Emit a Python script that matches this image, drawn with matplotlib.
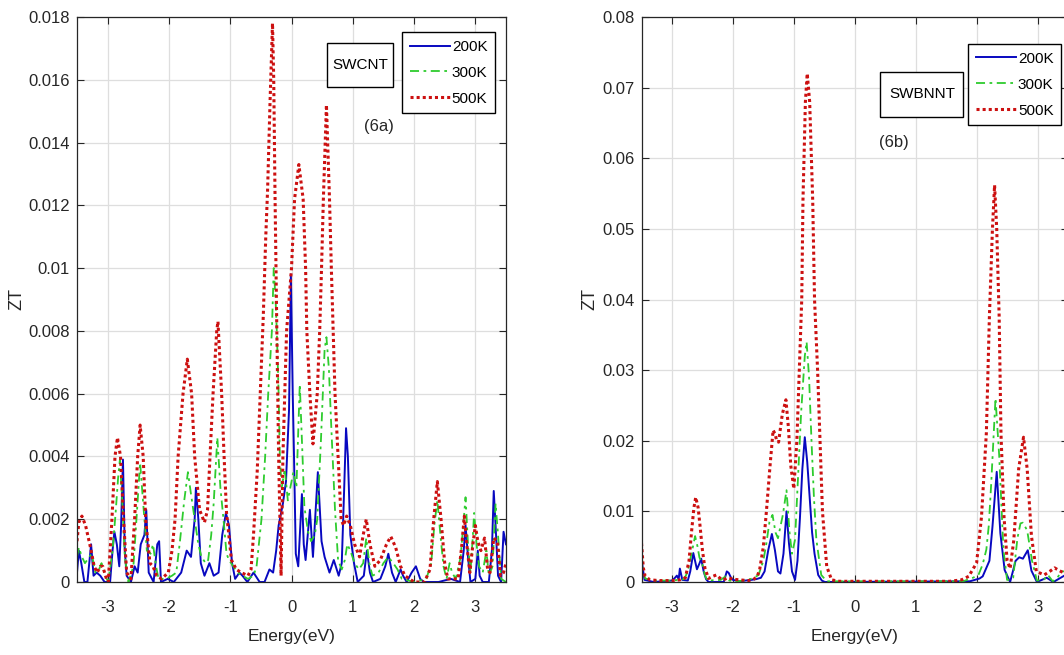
import matplotlib
matplotlib.use("Agg")
import matplotlib.pyplot as plt
import numpy as np
from matplotlib.patches import Rectangle
from matplotlib.ticker import FuncFormatter


# ZT values are given in units of 1e-3
SCALE = 1e-3

LABELS = ["200K", "300K", "500K"]
COLORS = ["#0808c0", "#2ecc2e", "#cc1010"]

# ---- (6a) SWCNT ----
cnt_e_200 = [-3.50, -3.47, -3.43, -3.38, -3.33, -3.27, -3.23, -3.18, -3.12, -3.05, -2.96, -2.92,
             -2.89, -2.85, -2.81, -2.78, -2.75, -2.72, -2.69, -2.62, -2.56, -2.51, -2.46, -2.40,
             -2.37, -2.33, -2.25, -2.19, -2.16, -2.13, -2.02, -1.92, -1.80, -1.71, -1.64, -1.58,
             -1.56, -1.52, -1.48, -1.42, -1.34, -1.27, -1.19, -1.13, -1.07, -1.02, -0.97, -0.92,
             -0.85, -0.80, -0.72, -0.62, -0.52, -0.44, -0.36, -0.30, -0.25, -0.21, -0.14, -0.09,
             -0.04, -0.01, 0.02, 0.04, 0.07, 0.11, 0.17, 0.20, 0.23, 0.30, 0.35, 0.43, 0.49, 0.54,
             0.62, 0.69, 0.77, 0.82, 0.86, 0.89, 0.92, 0.96, 1.02, 1.08, 1.18, 1.23, 1.28, 1.33,
             1.45, 1.53, 1.58, 1.64, 1.70, 1.78, 1.82, 1.88, 1.96, 2.03, 2.10, 2.16, 2.40, 2.60,
             2.75, 2.81, 2.84, 2.88, 2.92, 3.00, 3.04, 3.07, 3.12, 3.22, 3.27, 3.30, 3.33, 3.37,
             3.42, 3.46, 3.50]
cnt_zt_200 = [0.3, 1.0, 0.6, 0.0, 0.0, 1.2, 0.2, 0.3, 0.2, 0.0, 0.0, 1.0,
              1.6, 1.2, 0.5, 1.8, 3.9, 1.0, 0.2, 0.0, 0.5, 0.3, 1.2, 1.5,
              2.3, 0.3, 0.0, 1.2, 1.3, 0.0, 0.1, 0.0, 0.3, 1.0, 0.8, 2.0,
              3.0, 2.0, 0.6, 0.2, 0.6, 0.2, 0.3, 1.5, 2.2, 1.8, 0.6, 0.1,
              0.3, 0.2, 0.0, 0.3, 0.0, 0.0, 0.4, 0.3, 1.0, 1.8, 2.5, 3.2,
              5.5, 9.8, 6.0, 4.1, 0.9, 0.5, 2.8, 1.2, 0.7, 2.3, 0.8, 3.5, 1.3, 0.8,
              0.3, 0.7, 0.2, 0.6, 3.0, 4.9, 4.0, 1.5, 0.6, 0.0, 0.2, 1.0, 0.3, 0.0,
              0.1, 0.5, 0.9, 0.3, 0.0, 0.4, 0.2, 0.0, 0.3, 0.5, 0.1, 0.0, 0.0, 0.1,
              0.0, 1.0, 1.8, 0.8, 0.0, 0.1, 1.0, 0.2, 0.0, 0.0, 1.0, 2.9, 1.8, 0.2,
              0.0, 1.6, 1.2]

cnt_e_300 = [-3.50, -3.47, -3.42, -3.37, -3.30, -3.26, -3.20, -3.14, -3.10, -3.04, -2.99, -2.92,
             -2.87, -2.83, -2.80, -2.76, -2.72, -2.66, -2.58, -2.53, -2.47, -2.42, -2.36, -2.30,
             -2.26, -2.21, -2.17, -2.05, -1.95, -1.88, -1.82, -1.75, -1.69, -1.64, -1.58, -1.52,
             -1.47, -1.40, -1.36, -1.31, -1.27, -1.21, -1.16, -1.11, -1.06, -1.02, -0.95, -0.88,
             -0.80, -0.71, -0.62, -0.57, -0.49, -0.43, -0.38, -0.32, -0.29, -0.26, -0.24, -0.21,
             -0.19, -0.16, -0.11, -0.06, 0.03, 0.08, 0.135, 0.18, 0.21, 0.27, 0.32, 0.38, 0.42,
             0.48, 0.54, 0.57, 0.61, 0.65, 0.71, 0.76, 0.82, 0.87, 0.91, 0.96, 1.03, 1.10, 1.17,
             1.22, 1.27, 1.32, 1.42, 1.50, 1.58, 1.66, 1.73, 1.80, 2.00, 2.20, 2.28, 2.33, 2.38,
             2.43, 2.48, 2.53, 2.58, 2.62, 2.68, 2.76, 2.84, 2.88, 2.92, 2.96, 2.98, 3.02, 3.06,
             3.12, 3.18, 3.22, 3.28, 3.33, 3.37, 3.42, 3.50]
cnt_zt_300 = [0.8, 1.1, 0.8, 0.6, 0.8, 0.9, 0.3, 0.4, 0.6, 0.2, 0.0, 1.0,
              2.2, 3.3, 3.9, 2.5, 0.8, 0.0, 0.5, 2.0, 3.8, 2.5, 1.0, 0.9,
              1.2, 0.5, 0.1, 0.1, 0.2, 0.3, 1.3, 2.6, 3.5, 2.8, 2.0, 1.2,
              0.8, 0.6, 0.7, 1.5, 2.5, 4.6, 3.0, 2.0, 0.9, 0.7, 0.5, 0.3,
              0.2, 0.1, 0.2, 0.5, 2.0, 4.0, 6.0, 8.0, 10.0, 9.0, 8.0, 6.0,
              4.0, 3.0, 3.6, 2.6, 3.5, 3.0, 6.3, 4.0, 2.4, 1.6, 1.3, 1.5, 2.0,
              4.5, 7.4, 7.8, 6.8, 4.9, 2.3, 0.7, 0.4, 0.7, 1.2, 1.0, 0.6, 0.4, 0.6,
              1.4, 0.6, 0.2, 0.3, 0.6, 0.8, 0.6, 0.4, 0.1, 0.0, 0.1, 0.6, 1.8, 2.6,
              1.5, 0.5, 0.1, 0.6, 0.3, 0.1, 0.8, 2.7, 1.2, 0.3, 1.5, 2.2, 1.2, 0.5,
              0.3, 1.0, 0.2, 0.5, 2.5, 1.5, 0.1, 0.0]

cnt_e_500 = [-3.50, -3.47, -3.42, -3.36, -3.28, -3.22, -3.17, -3.12, -3.08, -3.02, -2.99, -2.93,
             -2.88, -2.84, -2.79, -2.74, -2.69, -2.62, -2.56, -2.51, -2.47, -2.42, -2.38, -2.31,
             -2.26, -2.20, -2.12, -2.01, -1.95, -1.90, -1.85, -1.77, -1.70, -1.63, -1.58, -1.50,
             -1.42, -1.37, -1.33, -1.28, -1.22, -1.20, -1.14, -1.10, -1.06, -0.98, -0.90, -0.82,
             -0.71, -0.66, -0.62, -0.56, -0.50, -0.46, -0.42, -0.39, -0.35, -0.31, -0.29, -0.27,
             -0.24, -0.21, -0.17, -0.14, -0.08, 0.00, 0.05, 0.12, 0.19, 0.23, 0.25, 0.30, 0.35,
             0.42, 0.46, 0.49, 0.52, 0.57, 0.62, 0.65, 0.68, 0.71, 0.76, 0.81, 0.85, 0.90, 0.96,
             1.03, 1.11, 1.17, 1.22, 1.28, 1.36, 1.45, 1.55, 1.62, 1.70, 1.78, 1.85, 2.00, 2.17,
             2.26, 2.32, 2.38, 2.44, 2.50, 2.55, 2.72, 2.78, 2.82, 2.86, 2.91, 2.96, 3.00, 3.04,
             3.09, 3.15, 3.20, 3.24, 3.30, 3.36, 3.41, 3.46, 3.50]
cnt_zt_500 = [1.3, 1.9, 2.1, 1.8, 1.1, 0.5, 0.3, 0.5, 0.5, 0.1, 0.0, 2.0,
              4.0, 4.6, 4.0, 2.0, 0.3, 0.1, 2.0, 4.0, 5.0, 4.0, 2.0, 0.6,
              0.5, 0.2, 0.1, 0.3, 1.0, 2.0, 4.0, 6.0, 7.1, 6.0, 4.0, 2.3,
              1.9, 2.3, 4.0, 6.0, 8.0, 8.3, 6.0, 4.0, 2.2, 0.7, 0.4, 0.3,
              0.2, 0.4, 1.5, 3.5, 6.5, 8.5, 11.0, 12.5, 15.3, 17.8, 16.0, 12.5,
              8.1, 4.0, 0.2, 4.0, 8.0, 10.0, 12.2, 13.3, 12.2, 10.0, 8.0, 6.0, 4.4,
              6.0, 8.0, 10.0, 12.2, 15.2, 12.2, 10.0, 8.0, 6.0, 4.0, 2.0, 1.8, 2.1, 1.8,
              1.2, 0.8, 1.5, 2.0, 1.2, 0.5, 0.7, 1.2, 1.45, 1.1, 0.5, 0.2, 0.0, 0.0,
              0.4, 2.0, 3.2, 2.0, 0.6, 0.1, 0.1, 1.2, 2.1, 1.2, 0.3, 1.2, 1.8, 1.3,
              1.0, 1.4, 0.4, 0.3, 1.4, 1.3, 0.2, 0.3, 0.6]

# ---- (6b) SWBNNT ----
bn_e_200 = [-3.50, -3.48, -3.45, -3.30, -3.00, -2.95, -2.92, -2.89, -2.87, -2.83, -2.74, -2.70,
            -2.65, -2.59, -2.55, -2.52, -2.48, -2.44, -2.40, -2.15, -2.10, -2.07, -2.03, -2.00,
            -1.90, -1.70, -1.62, -1.54, -1.48, -1.42, -1.36, -1.31, -1.26, -1.22, -1.17, -1.12,
            -1.08, -1.03, -0.98, -0.94, -0.90, -0.86, -0.82, -0.78, -0.74, -0.70, -0.66, -0.60,
            -0.54, -0.49, 1.89, 2.05, 2.10, 2.21, 2.26, 2.33, 2.39, 2.46, 2.55, 2.64, 2.70, 2.76,
            2.84, 2.90, 2.99, 3.15, 3.26, 3.40, 3.50]
bn_zt_200 = [3.5, 2.0, 0.3, 0.0, 0.2, 0.6, 0.9, 0.4, 1.9, 0.3, 0.2, 1.5,
             4.1, 1.8, 2.6, 3.3, 1.5, 0.4, 0.0, 0.0, 1.5, 1.3, 0.6, 0.3,
             0.1, 0.3, 0.4, 0.6, 1.5, 4.5, 6.8, 4.5, 1.5, 1.2, 4.0, 10.0,
             5.5, 1.5, 0.3, 3.0, 9.0, 16.0, 20.5, 17.0, 12.0, 7.0, 4.0, 1.0,
             0.2, 0.0, 0.1, 0.5, 0.8, 3.0, 7.8, 15.6, 6.9, 1.7, 0.0, 3.0, 3.5, 3.3,
             4.5, 1.6, 0.0, 0.6, 0.0, 0.7, 1.2]

bn_e_300 = [-3.50, -3.47, -3.44, -3.30, -3.00, -2.80, -2.74, -2.68, -2.62, -2.58, -2.55, -2.50,
            -2.46, -2.42, -2.20, -2.12, -2.06, -1.90, -1.67, -1.58, -1.50, -1.45, -1.40, -1.35,
            -1.30, -1.26, -1.18, -1.12, -1.07, -1.03, -0.98, -0.93, -0.88, -0.82, -0.79, -0.75,
            -0.71, -0.67, -0.63, -0.55, -0.46, 1.78, 1.94, 2.03, 2.10, 2.16, 2.20, 2.24, 2.31,
            2.37, 2.44, 2.50, 2.55, 2.60, 2.67, 2.72, 2.76, 2.83, 2.91, 2.99, 3.10, 3.17, 3.25,
            3.32, 3.39, 3.50]
bn_zt_300 = [4.0, 1.5, 0.5, 0.2, 0.2, 0.4, 1.5, 4.0, 6.5, 5.0, 3.5, 2.5,
             1.0, 0.2, 0.3, 0.8, 0.2, 0.1, 0.5, 1.0, 3.0, 5.5, 8.5, 9.5,
             7.0, 6.2, 9.5, 13.0, 7.0, 4.0, 6.0, 15.0, 24.0, 32.0, 34.0, 29.0,
             20.0, 12.0, 6.0, 1.0, 0.1, 0.1, 0.6, 1.0, 2.5, 4.6, 8.0, 14.0, 26.0,
             18.0, 4.6, 0.3, 0.3, 0.6, 6.2, 8.3, 8.4, 7.3, 3.0, 0.2, 0.3, 1.0, 0.1,
             0.5, 1.5, 1.5]

bn_e_500 = [-3.50, -3.47, -3.44, -3.36, -3.20, -3.00, -2.87, -2.78, -2.72, -2.68, -2.64, -2.61,
            -2.57, -2.54, -2.50, -2.46, -2.40, -2.33, -2.27, -2.22, -2.16, -2.08, -2.00, -1.89,
            -1.75, -1.67, -1.60, -1.56, -1.50, -1.45, -1.39, -1.34, -1.31, -1.28, -1.25, -1.19,
            -1.13, -1.09, -1.05, -1.00, -0.95, -0.91, -0.87, -0.85, -0.81, -0.78, -0.74, -0.69,
            -0.66, -0.61, -0.57, -0.53, -0.46, -0.38, -0.25, 0.00, 1.00, 1.56, 1.75, 1.87, 2.00,
            2.08, 2.16, 2.21, 2.26, 2.295, 2.33, 2.37, 2.40, 2.45, 2.50, 2.55, 2.61, 2.69, 2.77,
            2.83, 2.90, 2.98, 3.11, 3.20, 3.28, 3.36, 3.45, 3.50]
bn_zt_500 = [5.5, 2.0, 0.8, 0.3, 0.2, 0.2, 0.3, 0.6, 3.0, 7.0, 10.5, 12.0,
             10.5, 8.0, 4.5, 2.0, 0.5, 0.8, 1.0, 0.6, 0.3, 0.6, 0.4, 0.3,
             0.2, 0.3, 0.8, 1.8, 5.0, 10.0, 16.5, 21.5, 21.0, 20.0, 19.8, 23.7,
             25.8, 22.0, 16.5, 13.2, 20.0, 30.0, 40.0, 54.0, 68.0, 72.0, 68.0, 54.0,
             40.0, 30.0, 20.0, 10.0, 2.2, 0.3, 0.1, 0.1, 0.1, 0.1, 0.3, 0.8, 2.7,
             9.2, 21.1, 37.6, 50.0, 56.2, 50.0, 37.6, 21.0, 9.2, 3.1, 1.9, 5.9, 16.0, 20.5,
             16.0, 6.5, 1.5, 1.0, 1.5, 2.0, 1.6, 1.2, 1.0]

X_TICKS = [-3, -2, -1, 0, 1, 2, 3]
CNT_YTICKS = [0, 0.002, 0.004, 0.006, 0.008, 0.01, 0.012, 0.014, 0.016, 0.018]
BN_YTICKS = [0, 0.01, 0.02, 0.03, 0.04, 0.05, 0.06, 0.07, 0.08]

plt.rcParams["font.family"] = ["Liberation Sans", "DejaVu Sans"]
plt.rcParams["font.size"] = 12

STYLES = [
    dict(linestyle="-", linewidth=1.4),
    dict(linestyle=(0, (5, 2.5, 1.5, 2.5)), linewidth=1.3),
    dict(linestyle=(0, (1, 1)), linewidth=2.2),
]


def style_axes(ax, yticks, ylim_top, ylabel_x):
    ax.set_xlim(-3.5, 3.5)
    ax.set_ylim(0, ylim_top)
    ax.set_xticks(X_TICKS)
    ax.set_yticks(yticks)
    ax.xaxis.set_major_formatter(FuncFormatter(lambda v, _: f"{v:g}"))
    ax.yaxis.set_major_formatter(FuncFormatter(lambda v, _: f"{v:g}"))
    ax.grid(True, color="#dedede", linewidth=0.9)
    ax.set_axisbelow(True)
    ax.tick_params(axis="both", direction="in", length=5, width=0.8, color="#262626",
                   top=True, right=True, labelcolor="#262626", labelsize=12)
    ax.tick_params(axis="x", pad=13)
    ax.tick_params(axis="y", pad=5)
    for sp in ax.spines.values():
        sp.set_color("#262626")
        sp.set_linewidth(0.9)
    ax.set_xlabel("Energy(eV)", color="#262626", fontsize=12.5)
    ax.xaxis.set_label_coords(0.5, -0.083)
    ax.set_ylabel("ZT", color="#262626", fontsize=13)
    ax.yaxis.set_label_coords(ylabel_x, 0.5)


def draw(ax, series):
    for (e, zt), label, color, st in zip(series, LABELS, COLORS, STYLES):
        ax.plot(e, np.asarray(zt) * SCALE, color=color, label=label, **st)


def legend(ax, x0, ytop):
    leg = ax.legend(loc="upper left", bbox_to_anchor=(x0, ytop), borderaxespad=0,
                    fancybox=False, edgecolor="black", framealpha=1, fontsize=11,
                    handlelength=2.6, handletextpad=0.15, borderpad=0.5,
                    labelspacing=0.78)
    leg.get_frame().set_linewidth(1.0)


def name_box(ax, rect, text_xy, text, tag_xy, tag):
    ax.add_patch(Rectangle(rect[:2], rect[2], rect[3], transform=ax.transAxes,
                           facecolor="white", edgecolor="black", linewidth=1.0, zorder=5))
    ax.text(*text_xy, text, transform=ax.transAxes, ha="center", va="center",
            fontsize=11, color="black", zorder=6)
    ax.text(*tag_xy, tag, transform=ax.transAxes, ha="center", va="center",
            fontsize=12, color="#262626", zorder=6)


fig = plt.figure(figsize=(10.64, 6.55), dpi=100)
ax1 = fig.add_axes([77 / 1064, 73 / 655, 429 / 1064, 565 / 655])
ax2 = fig.add_axes([641.5 / 1064, 73 / 655, 426.5 / 1064, 565 / 655])

draw(ax1, [(cnt_e_200, cnt_zt_200), (cnt_e_300, cnt_zt_300), (cnt_e_500, cnt_zt_500)])
style_axes(ax1, CNT_YTICKS, 0.018, -0.121)
legend(ax1, 0.758, 0.973)
name_box(ax1, (0.583, 0.876, 0.154, 0.078), (0.660, 0.915), "SWCNT", (0.704, 0.807), "(6a)")

draw(ax2, [(bn_e_200, bn_zt_200), (bn_e_300, bn_zt_300), (bn_e_500, bn_zt_500)])
style_axes(ax2, BN_YTICKS, 0.08, -0.102)
legend(ax2, 0.766, 0.952)
name_box(ax2, (0.559, 0.823, 0.195, 0.080), (0.658, 0.863), "SWBNNT", (0.592, 0.777), "(6b)")

fig.savefig("out.png", dpi=100)
